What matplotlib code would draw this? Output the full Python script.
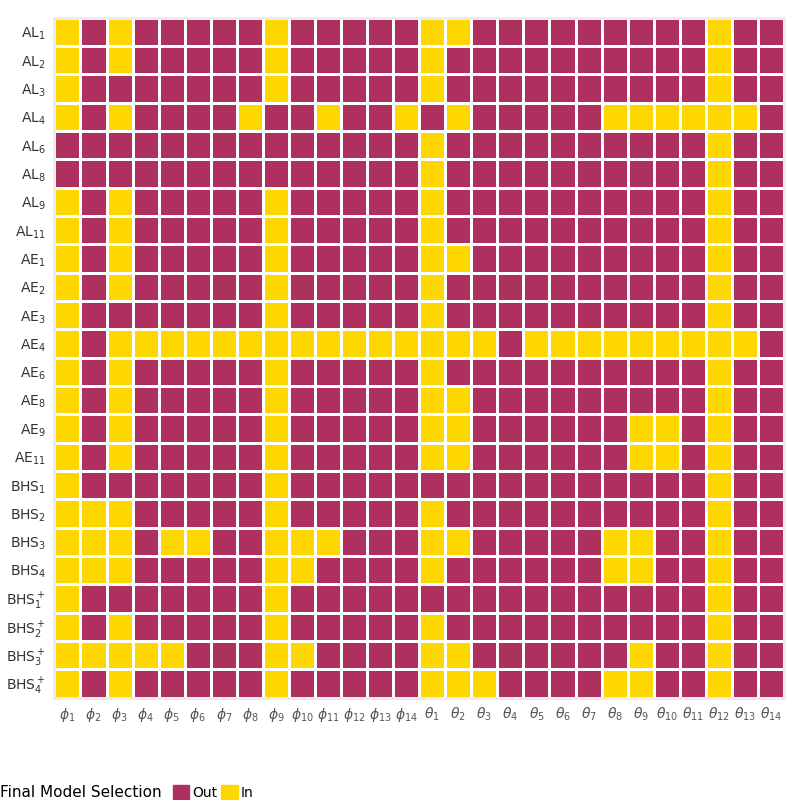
import matplotlib
matplotlib.use('Agg')
import matplotlib.pyplot as plt
from matplotlib.colors import ListedColormap
from matplotlib.patches import Patch
import numpy as np

rows = ['AL_1', 'AL_2', 'AL_3', 'AL_4', 'AL_6', 'AL_8', 'AL_9', 'AL_{11}',
        'AE_1', 'AE_2', 'AE_3', 'AE_4', 'AE_6', 'AE_8', 'AE_9', 'AE_{11}',
        'BHS_1', 'BHS_2', 'BHS_3', 'BHS_4',
        'BHS^+_1', 'BHS^+_2', 'BHS^+_3', 'BHS^+_4']
cols = [r'\phi_{%d}' % i for i in range(1, 15)] + [r'\theta_{%d}' % i for i in range(1, 15)]

# selected parameters per row (1-based column numbers)
selected = [
    [1, 3, 9, 15, 16, 26],
    [1, 3, 9, 15, 26],
    [1, 9, 15, 26],
    [1, 3, 8, 11, 14, 16, 22, 23, 24, 25, 26, 27],
    [15, 26],
    [15, 26],
    [1, 3, 9, 15, 26],
    [1, 3, 9, 15, 26],
    [1, 3, 9, 15, 16, 26],
    [1, 3, 9, 15, 26],
    [1, 9, 15, 26],
    [1] + list(range(3, 18)) + list(range(19, 28)),
    [1, 3, 9, 15, 26],
    [1, 3, 9, 15, 16, 26],
    [1, 3, 9, 15, 16, 23, 24, 26],
    [1, 3, 9, 15, 16, 23, 24, 26],
    [1, 9, 26],
    [1, 2, 3, 9, 15, 26],
    [1, 2, 3, 5, 6, 9, 10, 11, 15, 16, 22, 23, 26],
    [1, 2, 3, 9, 10, 15, 22, 23, 26],
    [1, 9, 26],
    [1, 3, 9, 15, 26],
    [1, 2, 3, 4, 5, 9, 10, 15, 16, 23, 26],
    [1, 3, 9, 15, 16, 17, 22, 23, 26],
]

out_color = '#AE305E'
in_color = '#FFD700'

grid = np.zeros((len(rows), len(cols)))
for r, sel in enumerate(selected):
    for c in sel:
        grid[r, c - 1] = 1

fig = plt.figure(figsize=(8, 8), dpi=100)
ax = fig.add_axes([0.068, 0.128, 0.912, 0.85])
ax.pcolormesh(grid, cmap=ListedColormap([out_color, in_color]),
              edgecolors='white', linewidth=0.8, vmin=0, vmax=1)
ax.set_xlim(0, len(cols))
ax.set_ylim(len(rows), 0)
ax.set_xticks(np.arange(len(cols)) + 0.5)
ax.set_xticklabels(['$%s$' % c for c in cols], color='#555555', fontsize=10)
ax.set_yticks(np.arange(len(rows)) + 0.5)
ax.set_yticklabels([r'$\mathrm{%s}$' % r for r in rows], color='#333333', fontsize=10)
ax.tick_params(length=0, pad=6)
for s in ax.spines.values():
    s.set_color('#EBEBEB')
    s.set_linewidth(2)

handles = [Patch(color=out_color, label='Out'), Patch(color=in_color, label='In')]
leg = fig.legend(handles=handles, loc='center', bbox_to_anchor=(0.53, 0.052), ncol=2,
                 frameon=False, title='Final Model Selection', fontsize=10,
                 handlelength=1.2, handleheight=1.2, handletextpad=0.2, columnspacing=0.3)
leg.get_title().set_fontsize(11)
leg._legend_box.align = 'left'
# put title to the left of the entries
leg._legend_box._children[0]
from matplotlib.offsetbox import HPacker
box = leg._legend_box
box_children = box.get_children()
new = HPacker(pad=0, sep=8, children=box_children, align='center')
leg._legend_box = new
new.set_figure(fig)
leg._legend_box.axes = None

fig.savefig('out.png')
